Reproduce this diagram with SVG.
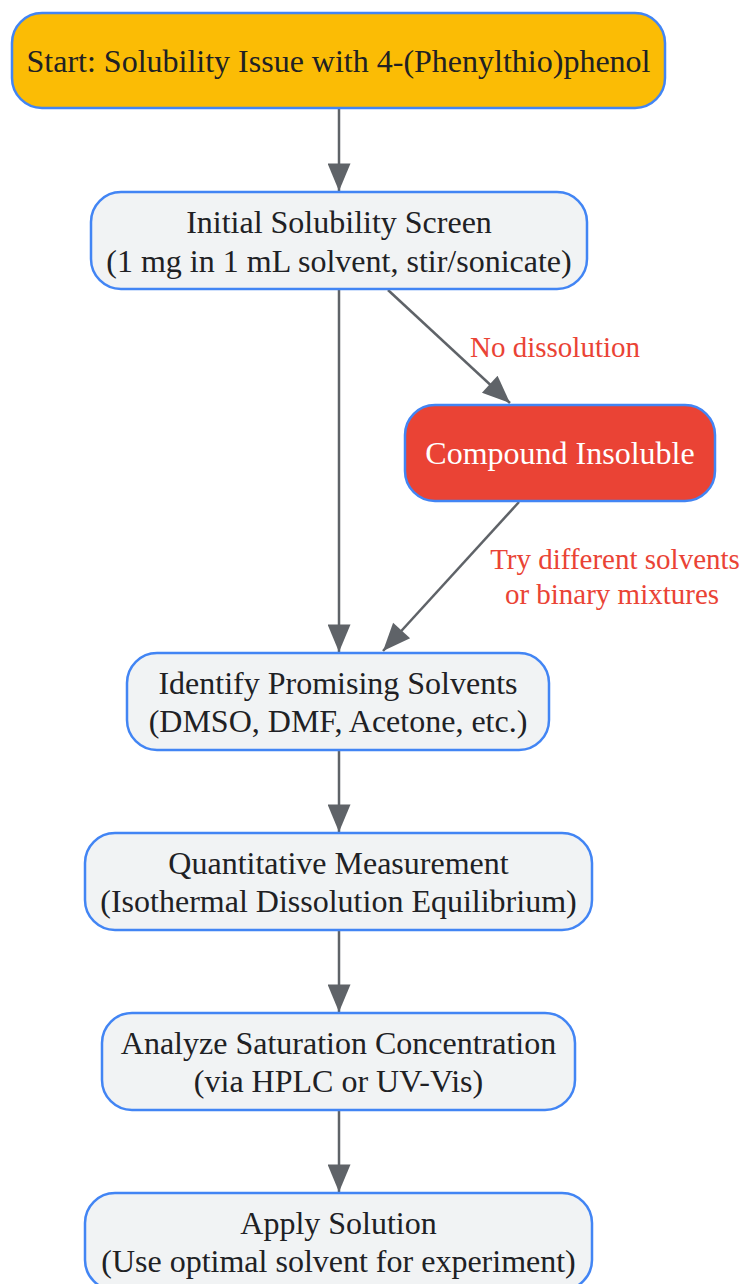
<svg xmlns="http://www.w3.org/2000/svg" width="743" height="1284" viewBox="0 0 743 1284">
<defs>
<style>
.node rect{fill:#F1F3F4;stroke:#4285F4;stroke-width:2.5}
.node text{font-family:"Liberation Serif","Times New Roman",serif;font-size:32px;fill:#202124;text-anchor:middle}
#start rect{fill:#FBBC05}
#insoluble rect{fill:#EA4335}
#insoluble text{fill:#FFFFFF}
.edge{stroke:#5F6368;stroke-width:2.5;fill:none;marker-end:url(#arrow)}
.elabel{font-family:"Liberation Serif","Times New Roman",serif;font-size:29px;fill:#EA4335;text-anchor:middle}
</style>
<marker id="arrow" viewBox="0 0 12 10" refX="12" refY="5" markerUnits="userSpaceOnUse" markerWidth="30" markerHeight="23" orient="auto">
<path d="M0,0 L12,5 L0,10 Z" fill="#5F6368"/>
</marker>
</defs>
<rect width="743" height="1284" fill="#FFFFFF"/>
<g id="connectors">
<line class="edge" x1="339" y1="108" x2="339" y2="191"/>
<line class="edge" x1="339" y1="289" x2="339" y2="652"/>
<line class="edge" x1="388" y1="290" x2="510" y2="403"/>
<line class="edge" x1="519" y1="502" x2="383" y2="651"/>
<line class="edge" x1="339" y1="750" x2="339" y2="832"/>
<line class="edge" x1="339" y1="930" x2="339" y2="1012"/>
<line class="edge" x1="339" y1="1110" x2="339" y2="1192"/>
<text class="elabel" x="555" y="357">No dissolution</text>
<text class="elabel" x="615" y="569">Try different solvents</text>
<text class="elabel" x="612" y="604">or binary mixtures</text>
</g>
<g id="start" class="node">
<rect x="12" y="13" width="653" height="95" rx="30" ry="30"/>
<text x="338.5" y="72">Start: Solubility Issue with 4-(Phenylthio)phenol</text>
</g>
<g id="screen" class="node">
<rect x="91" y="192" width="496" height="97" rx="30" ry="30"/>
<text x="339" y="233">Initial Solubility Screen</text>
<text x="339" y="272">(1 mg in 1 mL solvent, stir/sonicate)</text>
</g>
<g id="insoluble" class="node">
<rect x="405" y="405" width="310" height="96" rx="30" ry="30"/>
<text x="560" y="464">Compound Insoluble</text>
</g>
<g id="identify" class="node">
<rect x="127" y="653" width="422" height="97" rx="30" ry="30"/>
<text x="338" y="694">Identify Promising Solvents</text>
<text x="338" y="732">(DMSO, DMF, Acetone, etc.)</text>
</g>
<g id="quantitative" class="node">
<rect x="85" y="833" width="507" height="97" rx="30" ry="30"/>
<text x="338.5" y="874">Quantitative Measurement</text>
<text x="338.5" y="912">(Isothermal Dissolution Equilibrium)</text>
</g>
<g id="analyze" class="node">
<rect x="102" y="1013" width="473" height="97" rx="30" ry="30"/>
<text x="338.5" y="1054">Analyze Saturation Concentration</text>
<text x="338.5" y="1092">(via HPLC or UV-Vis)</text>
</g>
<g id="apply" class="node">
<rect x="85" y="1193" width="507" height="97" rx="30" ry="30"/>
<text x="338.5" y="1234">Apply Solution</text>
<text x="338.5" y="1272">(Use optimal solvent for experiment)</text>
</g>
</svg>
